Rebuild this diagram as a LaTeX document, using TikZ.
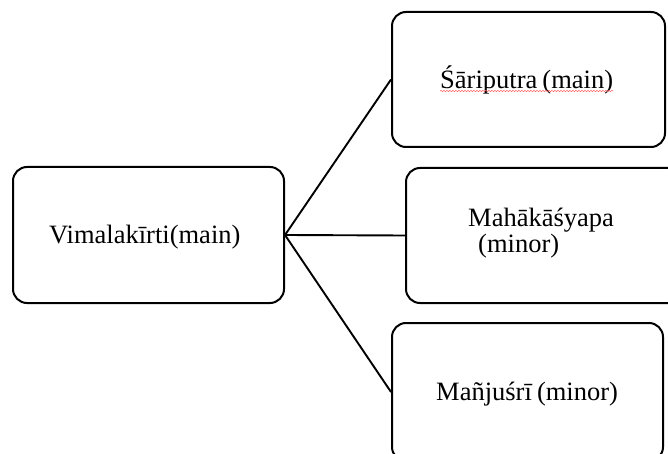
\documentclass[tikz,border=0pt]{standalone}
\usepackage{fontspec}
\setmainfont{Liberation Serif}
\usetikzlibrary{decorations.pathmorphing}
\begin{document}
\begin{tikzpicture}[x=1pt,y=-1pt,
  box/.style={draw=black,line width=2pt,rounded corners=14pt,rectangle,inner sep=0pt},
  link/.style={draw=black,line width=1.9pt},
  lbl/.style={anchor=base west,inner sep=0pt,font=\fontsize{26.5}{30}\selectfont}]
\useasboundingbox (0,0) rectangle (668,454);
\clip (0,0) rectangle (668,454);
\node[box,minimum width=271pt,minimum height=136pt] (vim) at (148.5,235) {};
\node[box,minimum width=273pt,minimum height=135pt] (sar) at (528.5,79.5) {};
\node[box,minimum width=276pt,minimum height=135pt] (mah) at (544,235.5) {};
\node[box,minimum width=271pt,minimum height=138pt] (man) at (527.5,392) {};
\draw[link] (vim.east) -- (sar.west);
\draw[link] (vim.east) -- (mah.west);
\draw[link] (vim.east) -- (man.west);
\node[lbl] (tvim) at (49,243) {Vimalakīrti(main)};
\node[lbl] (tsar) at (440,89) {Śāriputra\hspace{-1.5pt} (main)};
\node[lbl] (tmah1) at (468,226) {Mahākāśyapa};
\node[lbl] (tmah2) at (478,252) {(minor)};
\node[lbl] (tman) at (436,400) {Mañjuśrī\hspace{-1.5pt} (minor)};
\draw[red!65,line width=0.5pt,decorate,decoration={snake,segment length=3pt,amplitude=0.6pt}]
  (tsar.base west) ++(0,2) -- ([yshift=-2pt]tsar.base east);
\end{tikzpicture}
\end{document}
